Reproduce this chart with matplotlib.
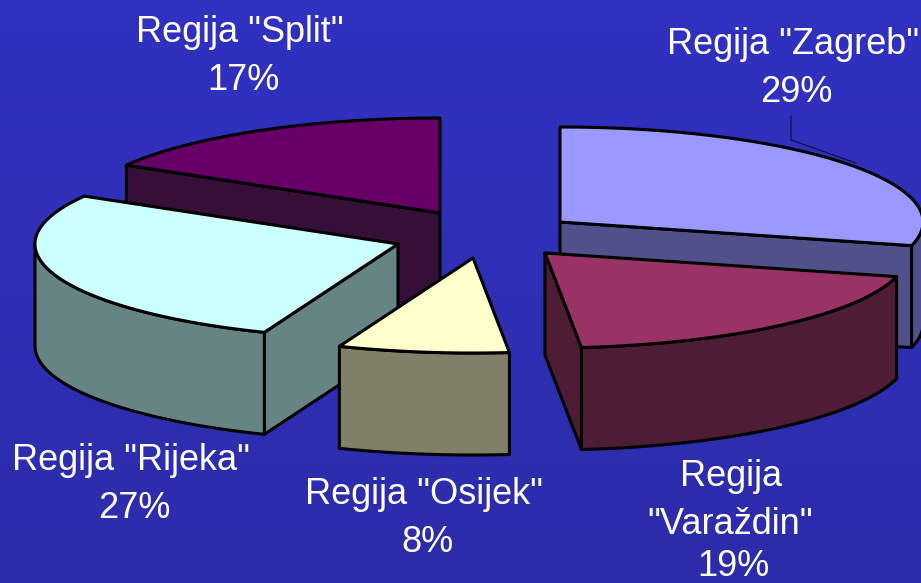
import numpy as np
import matplotlib
matplotlib.use("Agg")
import matplotlib.pyplot as plt
from matplotlib.patches import Polygon

plt.rcParams['font.family'] = ['Liberation Sans', 'DejaVu Sans']

region_lines = [['Regija "Zagreb"'], ['Regija', '"Varaždin"'], ['Regija "Osijek"'], ['Regija "Rijeka"'], ['Regija "Split"']]
shares = [29.0, 19.4, 7.6, 27.4, 16.6]
top_colors = ['#9999FF', '#993366', '#FFFFCC', '#CCFFFF', '#660066']
side_colors = ['#50508A', '#4F1C36', '#808068', '#668484', '#360F38']

W, H = 921, 583
fig = plt.figure(figsize=(W / 100, H / 100), dpi=100)
ax = fig.add_axes([0, 0, 1, 1])
ax.set_xlim(0, W)
ax.set_ylim(H, 0)
ax.axis('off')

grad = np.linspace(0, 1, 256)[:, None]
rgb = np.dstack([(49 - 5 * grad) / 255, (49 - 5 * grad) / 255, (194 - 24 * grad) / 255])
ax.imshow(rgb, extent=[0, W, H, 0], aspect='auto', zorder=0)

RX, RY, DEPTH = 363, 95, 102
FS = 26.0
apexes = [(560, 222), (545, 253), (473, 258), (398, 244), (440, 213)]
name_xy = [[(793, 44)], [(731, 477), (730, 524)], [(424, 495)], [(131, 461)], [(240, 32)]]
pct_xy = [(796, 93), (733, 566), (427, 542), (134, 509), (243, 80)]
paint_order = [4, 0, 3, 1, 2]

edges = np.concatenate([[0], np.cumsum(shares)]) * 3.6


def rim(cx, cy, a_deg):
    a = np.radians(a_deg)
    return cx + RX * np.sin(a), cy - RY * np.cos(a)


def draw(pts, color, z):
    ax.add_patch(Polygon(pts, closed=True, facecolor=color, edgecolor='black',
                         linewidth=2.2, joinstyle='round', zorder=z))


z = 2
for i in paint_order:
    cx, cy = apexes[i]
    a1, a2 = edges[i], edges[i + 1]
    if np.sin(np.radians(a1)) < -1e-6:
        x, y = rim(cx, cy, a1)
        draw([(cx, cy), (x, y), (x, y + DEPTH), (cx, cy + DEPTH)], side_colors[i], z)
        z += 1
    if np.sin(np.radians(a2)) > 1e-6:
        x, y = rim(cx, cy, a2)
        draw([(cx, cy), (x, y), (x, y + DEPTH), (cx, cy + DEPTH)], side_colors[i], z)
        z += 1
    lo, hi = max(a1, 90), min(a2, 270)
    if lo < hi:
        t = np.linspace(lo, hi, 80)
        xs, ys = rim(cx, cy, t)
        pts = list(zip(xs, ys)) + list(zip(xs[::-1], ys[::-1] + DEPTH))
        draw(pts, side_colors[i], z)
        z += 1
    t = np.linspace(a1, a2, 120)
    xs, ys = rim(cx, cy, t)
    draw([(cx, cy)] + list(zip(xs, ys)), top_colors[i], z)
    z += 1

# Leader line of the Zagreb label
ax.plot([791, 791, 856], [116, 140, 163], color='#101040', lw=0.9, zorder=z)

for lines, share, positions, (px, py) in zip(region_lines, shares, name_xy, pct_xy):
    for text, (lx, ly) in zip(lines, positions):
        ax.text(lx, ly, text, color='white', fontsize=FS, ha='center', va='center', zorder=z + 1)
    ax.text(px, py, f'{round(share)}%', color='white', fontsize=FS,
            ha='center', va='center', zorder=z + 1)

fig.savefig('out.png', dpi=100)
